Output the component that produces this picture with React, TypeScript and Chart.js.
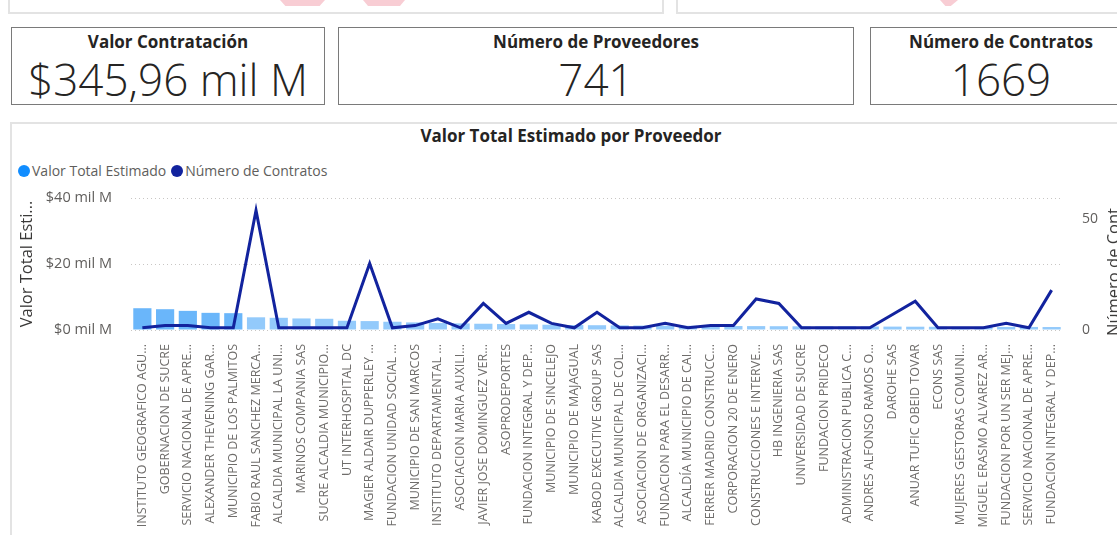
import React, { useEffect, useRef } from "react";
import { Chart, registerables } from "chart.js";

Chart.register(...registerables);

const categorias: string[] = [
  "INSTITUTO GEOGRAFICO AGU...",
  "GOBERNACION DE SUCRE",
  "SERVICIO NACIONAL DE APRE...",
  "ALEXANDER THEVENING GAR...",
  "MUNICIPIO DE LOS PALMITOS",
  "FABIO RAUL SANCHEZ MERCA...",
  "ALCALDIA MUNICIPAL LA UNI...",
  "MARINOS COMPANIA SAS",
  "SUCRE ALCALDIA MUNICIPIO...",
  "UT INTERHOSPITAL DC",
  "MAGIER ALDAIR DUPPERLEY ...",
  "FUNDACION UNIDAD SOCIAL ...",
  "MUNICIPIO DE SAN MARCOS",
  "INSTITUTO DEPARTAMENTAL ...",
  "ASOCIACION MARIA AUXILI...",
  "JAVIER JOSE DOMINGUEZ VER...",
  "ASOPRODEPORTES",
  "FUNDACION INTEGRAL Y DEP...",
  "MUNICIPIO DE SINCELEJO",
  "MUNICIPIO DE MAJAGUAL",
  "KABOD EXECUTIVE GROUP SAS",
  "ALCALDIA MUNICIPAL DE COL...",
  "ASOCIACION DE ORGANIZACI...",
  "FUNDACION PARA EL DESARR...",
  "ALCALDÍA MUNICIPIO DE CAI...",
  "FERRER MADRID CONSTRUCC...",
  "CORPORACION 20 DE ENERO",
  "CONSTRUCCIONES E INTERVE...",
  "HB INGENIERIA SAS",
  "UNIVERSIDAD DE SUCRE",
  "FUNDACION PRIDECO",
  "ADMINISTRACION PUBLICA C...",
  "ANDRES ALFONSO RAMOS O...",
  "DAROHE SAS",
  "ANUAR TUFIC OBEID TOVAR",
  "ECONS SAS",
  "MUJERES GESTORAS COMUNI...",
  "MIGUEL ERASMO ALVAREZ AR...",
  "FUNDACION POR UN SER MEJ...",
  "SERVICIO NACIONAL DE APRE...",
  "FUNDACION INTEGRAL Y DEP...",
];

// Valor Total Estimado (mil M)
const valorTotal: number[] = [
  6.6, 6.3, 5.8, 5.2, 5.1, 3.85, 3.7, 3.5, 3.4, 2.8, 2.7, 2.5, 2.3, 2.1, 2.0,
  1.9, 1.8, 1.7, 1.6, 1.5, 1.45, 1.4, 1.35, 1.3, 1.28, 1.25, 1.2, 1.18, 1.15,
  1.12, 1.1, 1.08, 1.05, 1.03, 1.0, 0.98, 0.96, 0.95, 0.93, 0.92, 0.9,
];

// Número de Contratos
const numContratos: number[] = [
  1, 2, 2, 1, 1, 54, 1, 1, 1, 1, 30, 1, 2, 5, 1, 12, 3, 8, 3, 1, 8, 1, 1, 3, 1,
  2, 2, 14, 12, 1, 1, 1, 1, 7, 13, 1, 1, 1, 3, 1, 18,
];

const leftTicks: number[] = [0, 20, 40];
const rightTicks: number[] = [0, 50];

const FONT = "'Open Sans', 'Noto Sans', sans-serif";

function Card(props: { left: number; width: number; title: string; value: string }) {
  return (
    <div
      style={{
        position: "absolute",
        left: props.left,
        top: 27,
        width: props.width,
        height: 78,
        boxSizing: "border-box",
        border: "1.5px solid #7a7a7a",
        background: "#fff",
        textAlign: "center",
        color: "#252423",
      }}
    >
      <div style={{ fontSize: 17, fontWeight: 700, marginTop: 3, lineHeight: "22px" }}>{props.title}</div>
      <div style={{ fontSize: 44, fontWeight: 300, lineHeight: "48px", marginTop: 2 }}>{props.value}</div>
    </div>
  );
}

export default function App() {
  const canvasRef = useRef<HTMLCanvasElement | null>(null);

  useEffect(() => {
    const canvas = canvasRef.current;
    if (!canvas) return;
    const barColors = valorTotal.map((_, i) => (i < 5 ? "#6ab6fa" : "#93cafb"));
    const chart = new Chart(canvas, {
      type: "bar",
      data: {
        labels: categorias,
        datasets: [
          {
            type: "line",
            label: "Número de Contratos",
            data: numContratos,
            yAxisID: "y1",
            borderColor: "#12239E",
            backgroundColor: "#12239E",
            borderWidth: 3,
            pointRadius: 0,
            tension: 0,
            order: 0,
          } as any,
          {
            type: "bar",
            label: "Valor Total Estimado",
            data: valorTotal,
            yAxisID: "y",
            backgroundColor: barColors,
            barPercentage: 0.8,
            categoryPercentage: 1,
            order: 1,
          } as any,
        ],
      },
      options: {
        animation: false,
        responsive: false,
        devicePixelRatio: 1,
        layout: { padding: { top: 28, left: 0, right: 0, bottom: 0 } },
        plugins: {
          legend: { display: false },
          title: { display: false },
          tooltip: { enabled: false },
        },
        scales: {
          x: {
            grid: { display: false, drawTicks: false },
            border: { display: false },
            ticks: {
              autoSkip: false,
              minRotation: 90,
              maxRotation: 90,
              padding: 14,
              color: "#6f6d6b",
              font: { family: FONT, size: 12.5 },
            },
            afterFit: (s: any) => {
              s.height = 205;
            },
          },
          y: {
            position: "left",
            min: 0,
            max: 40,
            afterBuildTicks: (s: any) => {
              s.ticks = leftTicks.map((v) => ({ value: v }));
            },
            ticks: {
              padding: 19,
              color: "#605e5c",
              font: { family: FONT, size: 14.5 },
              callback: (v: any) => "$" + v + " mil M",
            },
            grid: { color: "#c8c6c4", lineWidth: 1, drawTicks: false },
            border: { display: false, dash: [1, 3] },
            title: {
              display: true,
              text: "Valor Total Esti...",
              color: "#3b3a39",
              font: { family: FONT, size: 16.5 },
              padding: { top: 6, bottom: 0 },
            },
            afterFit: (s: any) => {
              s.width = 120;
            },
          },
          y1: {
            position: "right",
            min: 0,
            max: 59.6,
            afterBuildTicks: (s: any) => {
              s.ticks = rightTicks.map((v) => ({ value: v }));
            },
            ticks: {
              padding: 19,
              color: "#605e5c",
              font: { family: FONT, size: 14 },
            },
            grid: { display: false, drawTicks: false },
            border: { display: false },
            afterFit: (s: any) => {
              s.width = 54;
            },
          },
        },
      } as any,
    });
    return () => chart.destroy();
  }, []);

  return (
    <div
      style={{
        position: "fixed",
        left: 0,
        top: 0,
        width: 1117,
        height: 535,
        overflow: "hidden",
        background: "#fff",
        fontFamily: FONT,
      }}
    >
      {/* top partial boxes */}
      <div style={{ position: "absolute", left: 8, top: -12, width: 656, height: 26, boxSizing: "border-box", border: "2px solid #e3e3e3" }} />
      <div style={{ position: "absolute", left: 676, top: -12, width: 460, height: 26, boxSizing: "border-box", border: "2px solid #e3e3e3" }} />
      <div style={{ position: "absolute", left: 280, top: 0, width: 45, height: 6, background: "#f8cdd4", clipPath: "polygon(0 0,100% 0,88% 100%,12% 100%)" }} />
      <div style={{ position: "absolute", left: 363, top: 0, width: 42, height: 6, background: "#f8cdd4", clipPath: "polygon(0 0,100% 0,88% 100%,12% 100%)" }} />
      <div style={{ position: "absolute", left: 940, top: 0, width: 18, height: 6, background: "#f8cdd4", clipPath: "polygon(0 0,100% 0,60% 100%,30% 100%)" }} />

      <Card left={11} width={314} title="Valor Contratación" value="$345,96 mil M" />
      <Card left={338} width={516} title="Número de Proveedores" value="741" />
      <Card left={870} width={262} title="Número de Contratos" value="1669" />

      {/* chart box */}
      <div style={{ position: "absolute", left: 10, top: 122, width: 1130, height: 430, boxSizing: "border-box", border: "2px solid #e3e3e3" }} />
      <div style={{ position: "absolute", left: 0, width: 1142, top: 125, textAlign: "center", fontSize: 17, fontWeight: 700, color: "#252423", lineHeight: "22px" }}>
        Valor Total Estimado por Proveedor
      </div>
      {/* legend */}
      <div style={{ position: "absolute", left: 18, top: 161, display: "flex", alignItems: "center", fontSize: 14, color: "#605e5c", lineHeight: "20px", whiteSpace: "nowrap" }}>
        <span style={{ display: "inline-block", width: 12, height: 12, borderRadius: 6, background: "#118DFF", marginRight: 2 }} />
        <span style={{ marginRight: 5 }}>Valor Total Estimado</span>
        <span style={{ display: "inline-block", width: 12, height: 12, borderRadius: 6, background: "#12239E", marginRight: 2 }} />
        <span>Número de Contratos</span>
      </div>
      <canvas
        ref={canvasRef}
        width={1106}
        height={365}
        style={{ position: "absolute", left: 11, top: 170, width: 1106, height: 365 }}
      />
      {/* right axis title (clipped by page edge) */}
      <div
        style={{
          position: "absolute",
          left: 1103,
          top: 336,
          transform: "rotate(-90deg)",
          transformOrigin: "left top",
          fontSize: 16.5,
          lineHeight: "20px",
          color: "#3b3a39",
          whiteSpace: "nowrap",
        }}
      >
        Número de Cont...
      </div>
    </div>
  );
}
